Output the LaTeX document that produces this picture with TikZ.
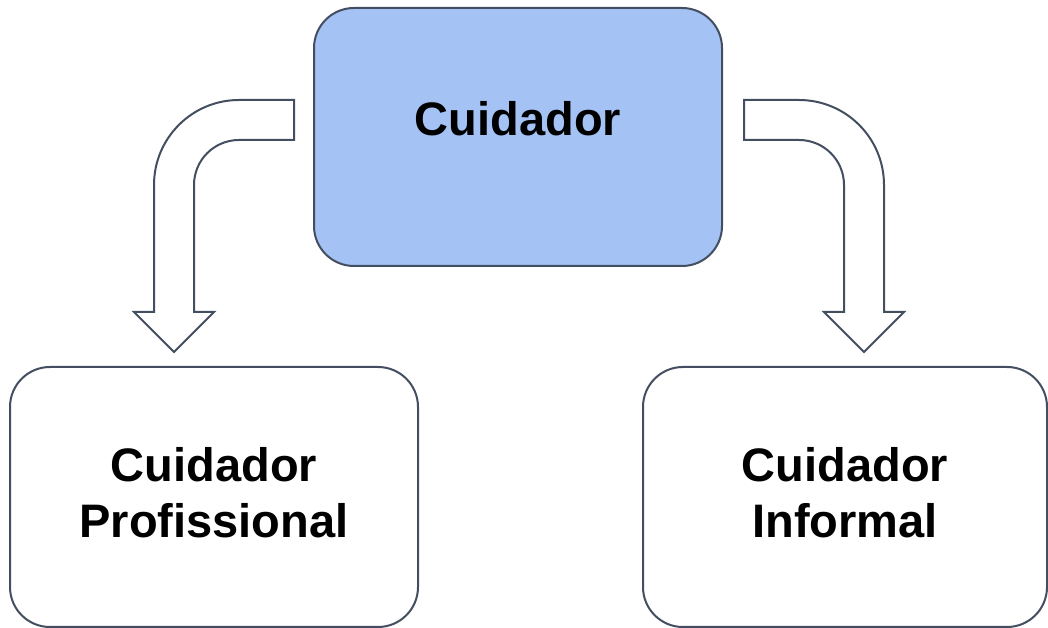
\documentclass[tikz,border=0pt]{standalone}
\usepackage{fontspec}
\setmainfont{Liberation Sans}
\definecolor{edge}{HTML}{434E60}
\definecolor{lightblue}{HTML}{A4C2F4}
\tikzset{
  box/.style={draw=edge, line width=2pt, rounded corners=40pt, align=center,
    font=\bfseries\fontsize{47}{56}\selectfont},
}
\begin{document}
\begin{tikzpicture}[x=1pt, y=1pt]
  \useasboundingbox (0,0) rectangle (1048,628);
  \node[box, fill=lightblue, minimum width=408pt, minimum height=258pt,
    text height=34pt, text depth=36pt] (cuidador) at (518,491) {Cuidador};
  \node[box, minimum width=408pt, minimum height=260pt, text height=90pt,
    text depth=8pt] (profissional) at (214,131) {Cuidador\\Profissional};
  \node[box, minimum width=404pt, minimum height=260pt, text height=90pt,
    text depth=8pt] (informal) at (845,131) {Cuidador\\Informal};
  % bent block arrows, mirrored about the middle
  \foreach \side in {-1, 1} {
    \begin{scope}[xshift=519pt, xscale=\side]
      \draw[edge, line width=2pt, line join=miter] (225,528) -- (280,528)
        arc[start angle=90, end angle=0, radius=85] -- (365,316) -- (385,316)
        -- (345,276) -- (305,316) -- (325,316) -- (325,443)
        arc[start angle=0, end angle=90, radius=45] -- (225,488) -- cycle;
    \end{scope}
  }
\end{tikzpicture}
\end{document}
